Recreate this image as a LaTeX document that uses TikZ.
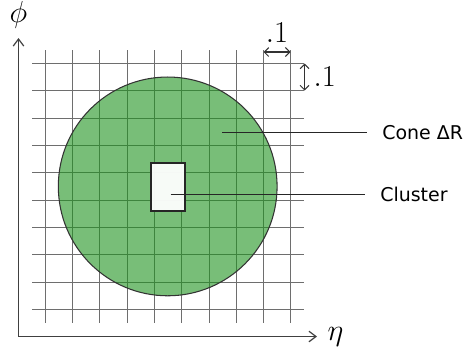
\documentclass[tikz,border=0pt]{standalone}
\usepackage{fontspec}
\newfontfamily\labelfont{DejaVu Sans}
\usetikzlibrary{arrows.meta}
\definecolor{conegreen}{RGB}{30,147,30}
\definecolor{gridgray}{RGB}{110,110,110}

\begin{document}
\begin{tikzpicture}[
        x=0.02cm, y=-0.02cm,
        >={Straight Barb[length=4pt, width=6pt]},
        gridline/.style={draw=gridgray, line width=0.7pt},
        axis/.style={draw=black!75, line width=0.7pt, ->},
        cone/.style={circle, fill=conegreen, fill opacity=0.6, draw=black!80, draw opacity=1, line width=0.6pt, inner sep=0pt, minimum size=4.376cm},
        cluster/.style={rectangle, draw=black!85, fill=white, fill opacity=0.95, draw opacity=1, line width=0.8pt, inner sep=0pt, minimum width=0.68cm, minimum height=0.96cm},
        leader/.style={draw=black!85, line width=0.6pt},
        tag/.style={font=\labelfont\fontsize{10.8}{13}\selectfont, anchor=west, inner xsep=8.5pt},
        sym/.style={font=\fontsize{17.5}{20}\selectfont},
        dim/.style={<->, draw=black!80, line width=0.6pt, >={Straight Barb[length=2.5pt, width=5pt]}}
    ]
        \useasboundingbox (0,0) rectangle (465,352);

        % ================= GRID =================
        \foreach \x in {45.5,72.5,99.5,127.5,154.5,181.5,209.5,236.5,263.5,290.5}
            \draw[gridline] (\x,50) -- (\x,323);
        \foreach \y in {63.5,90.5,118.5,145.5,172.5,200.5,227.5,254.5,282.5,309.5}
            \draw[gridline] (32,\y) -- (304,\y);

        % ================= CONE AND CLUSTER =================
        \node[cone] (cone) at (167.7,186.4) {};
        \node[cluster] (cluster) at (168,187) {};

        % ================= AXES =================
        \coordinate (origin) at (18.5,336.5);
        \coordinate (ytip) at (18.5,38);
        \coordinate (xtip) at (317,336.5);
        \draw[axis] (origin) -- (ytip);
        \draw[axis] (origin) -- (xtip);
        \node[sym] (phi) at (18.5,15) {$\phi$};
        \node[sym] (eta) at (335.5,336.5) {$\eta$};

        % ================= CELL SIZE =================
        \coordinate (dxa) at (263.5,52);
        \coordinate (dxb) at (290.5,52);
        \coordinate (dya) at (304.5,63.5);
        \coordinate (dyb) at (304.5,90.5);
        \draw[dim] (dxa) -- (dxb) node[sym, midway, above=2pt] (dxlbl) {$.1$};
        \draw[dim] (dya) -- (dyb) node[sym, midway, right=1.5pt] (dylbl) {$.1$};

        % ================= LABELS =================
        \coordinate (conept) at (222,132.5);
        \coordinate (clusterpt) at (170.7,194.5);
        \node[tag] (conelbl) at (367,132.5) {Cone ΔR};
        \node[tag] (clusterlbl) at (365,194.5) {Cluster};
        \draw[leader] (conept) -- (conept -| conelbl.west);
        \draw[leader] (clusterpt) -- (clusterpt -| clusterlbl.west);

    \end{tikzpicture}
\end{document}
